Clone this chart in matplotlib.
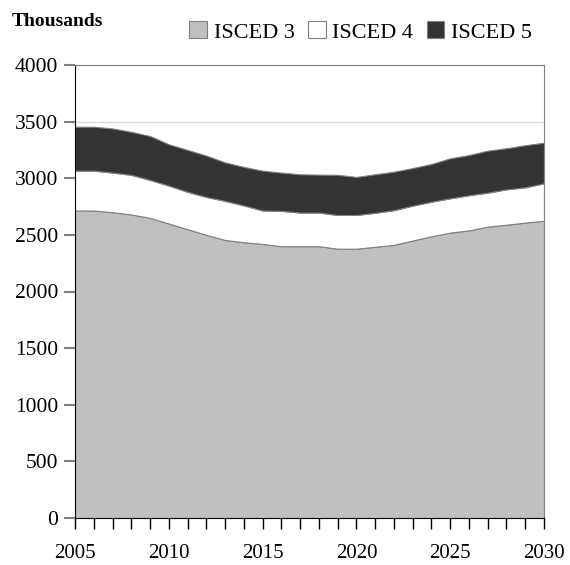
import matplotlib.pyplot as plt
import numpy as np

years = list(range(2005, 2031))
isced3 = [2715, 2715, 2700, 2680, 2650, 2600, 2550, 2500, 2455, 2435, 2420, 2400, 2400,
          2400, 2378, 2378, 2395, 2412, 2450, 2488, 2520, 2540, 2573, 2590, 2608, 2625]
isced4 = [352, 352, 350, 350, 335, 335, 330, 335, 345, 325, 295, 312, 297,
          297, 298, 298, 300, 306, 308, 305, 303, 310, 300, 312, 312, 330]
isced5 = [388, 388, 390, 380, 388, 365, 370, 365, 340, 340, 352, 338, 338,
          335, 354, 336, 340, 340, 332, 333, 353, 355, 371, 363, 372, 359]
labels = ["ISCED 3", "ISCED 4", "ISCED 5"]
colors = ["#c0c0c0", "#ffffff", "#333333"]

plt.rcParams['font.family'] = ['Liberation Serif', 'DejaVu Serif']

fig = plt.figure(figsize=(5.7, 5.65), dpi=100)
ax = fig.add_axes([75/570, 1-518/565, 469/570, 453/565])

polys = ax.stackplot(years, isced3, isced4, isced5, colors=colors,
                     edgecolor="#808080", linewidth=0.8, labels=labels, zorder=2)

ax.set_xlim(2005, 2030)
ax.set_ylim(0, 4000)
ax.set_yticks(np.arange(0, 4001, 500))
ax.set_xticks(range(2005, 2031, 5))
ax.set_xticks(years, minor=True)
ax.yaxis.grid(True, color="#d9d9d9", linewidth=1, zorder=0)
ax.set_axisbelow(True)

ax.tick_params(axis='y', direction='out', length=8, width=1.5, color="#808080",
               labelsize=15.5, pad=4)
ax.tick_params(axis='x', which='both', direction='out', length=8, width=1,
               color="black", labelsize=15, pad=11)
for s in ['top', 'right']:
    ax.spines[s].set_color("#808080")
ax.spines['left'].set_color("black")
ax.spines['bottom'].set_color("black")

fig.text(12/570, 1-22/565, "Thousands", fontsize=14, fontweight='bold', va='center')

leg = fig.legend(handles=polys, labels=labels, loc='center right',
                 bbox_to_anchor=(552/570, 1-32/565), ncol=3, frameon=False,
                 fontsize=16, handlelength=0.8, handleheight=0.8,
                 handletextpad=0.3, columnspacing=0.6)

fig.savefig("out.png", dpi=100)
